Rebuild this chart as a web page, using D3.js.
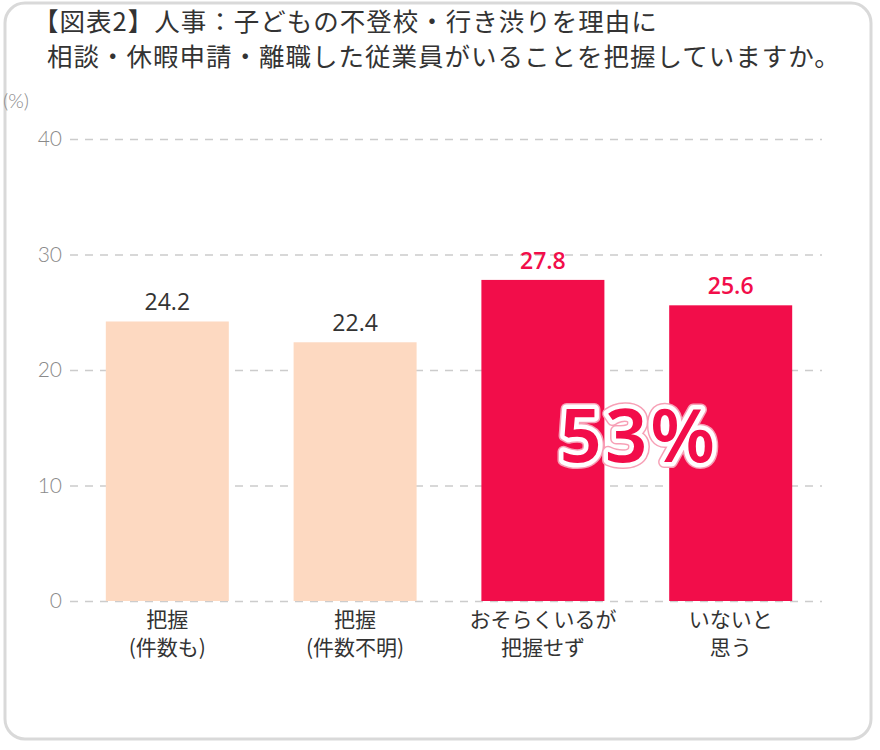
<!DOCTYPE html>
<html>
<head>
<meta charset="utf-8">
<title>図表2</title>
<style>
  body { margin: 0; background: #fff; }
  svg { display: block; }
</style>
</head>
<body>
<script src="https://cdn.jsdelivr.net/npm/d3@7"></script>
<script>
var categories = [["把握", "(件数も)"], ["把握", "(件数不明)"], ["おそらくいるが", "把握せず"], ["いないと", "思う"]];
var values = [24.2, 22.4, 27.8, 25.6];
var barColors = ["#fdd9c1", "#fdd9c1", "#f20d4a", "#f20d4a"];
var labelColors = ["#333333", "#333333", "#f20d4a", "#f20d4a"];
var yTicks = [0, 10, 20, 30, 40];
var titleLines = ["【図表2】人事：子どもの不登校・行き渋りを理由に", "相談・休暇申請・離職した従業員がいることを把握していますか。"];
var bigNote = "53%";

var width = 880, height = 750;
var jp = "'Noto Sans CJK JP', 'Noto Sans', sans-serif";

var svg = d3.select("body").append("svg")
    .attr("width", width)
    .attr("height", height);

// card frame
svg.append("rect")
    .attr("x", 5).attr("y", 3)
    .attr("width", 866).attr("height", 736)
    .attr("rx", 20)
    .attr("fill", "#fff")
    .attr("stroke", "#d9d9d9")
    .attr("stroke-width", 3);

// title
svg.selectAll(".title").data(titleLines)
  .enter().append("text")
    .attr("class", "title")
    .attr("x", function(d, i) { return i === 0 ? 33 : 47; })
    .attr("y", function(d, i) { return 31 + i * 35; })
    .attr("font-family", jp)
    .attr("font-size", 25.5)
    .attr("letter-spacing", 1)
    .attr("fill", "#333")
    .text(function(d) { return d; });

var x = d3.scaleBand()
    .domain(d3.range(categories.length))
    .range([72, 826])
    .paddingInner(0.345)
    .paddingOuter(0.18);

var y = d3.scaleLinear()
    .domain([0, 40])
    .range([601, 139]);

// grid + tick labels
var yAxis = d3.axisLeft(y)
    .tickValues(yTicks)
    .tickSize(-(822 - 70))
    .tickPadding(8);

var gy = svg.append("g")
    .attr("transform", "translate(70,0)")
    .call(yAxis);
gy.select(".domain").remove();
gy.selectAll(".tick line")
    .attr("stroke", "#cccccc")
    .attr("stroke-width", 1.5)
    .attr("stroke-dasharray", "8,7");
gy.selectAll(".tick text")
    .attr("font-family", "Lato, 'Noto Sans', sans-serif")
    .attr("font-weight", 300)
    .attr("font-size", 21)
    .attr("fill", "#8a8a8a");

svg.append("text")
    .attr("x", 3).attr("y", 108)
    .attr("font-family", "Lato, sans-serif")
    .attr("font-weight", 300)
    .attr("font-size", 20)
    .attr("fill", "#8a8a8a")
    .text("(%)");

// bars
svg.selectAll(".bar").data(values)
  .enter().append("rect")
    .attr("class", "bar")
    .attr("x", function(d, i) { return x(i); })
    .attr("y", function(d) { return y(d); })
    .attr("width", x.bandwidth())
    .attr("height", function(d) { return y(0) - y(d); })
    .attr("fill", function(d, i) { return barColors[i]; });

// value labels
svg.selectAll(".val").data(values)
  .enter().append("text")
    .attr("class", "val")
    .attr("x", function(d, i) { return x(i) + x.bandwidth() / 2; })
    .attr("y", function(d) { return y(d) - 11; })
    .attr("text-anchor", "middle")
    .attr("font-family", "'Open Sans', 'Noto Sans', sans-serif")
    .attr("font-weight", function(d, i) { return i >= 2 ? 600 : 400; })
    .attr("font-size", 23)
    .attr("fill", function(d, i) { return labelColors[i]; })
    .text(function(d) { return d.toFixed(1); });

// category labels, one text per line
var catLines = [];
categories.forEach(function(c, i) {
  c.forEach(function(s, j) { catLines.push({s: s, i: i, j: j}); });
});
svg.selectAll(".cat").data(catLines)
  .enter().append("text")
    .attr("class", "cat")
    .attr("x", function(d) { return x(d.i) + x.bandwidth() / 2; })
    .attr("y", function(d) { return 627 + d.j * 28; })
    .attr("text-anchor", "middle")
    .attr("font-family", jp)
    .attr("font-size", 21)
    .attr("fill", "#333")
    .text(function(d) { return d.s; });

// 53% callout across the red bars
var cx = (x(2) + x(3) + x.bandwidth()) / 2;
var note = svg.append("g").attr("font-family", "'Noto Sans', Lato, sans-serif")
    .attr("font-weight", 600).attr("font-size", 74).attr("text-anchor", "middle")
    .attr("letter-spacing", 3);
note.append("text")
    .attr("x", cx + 2).attr("y", 462)
    .attr("fill", "#f20d4a")
    .attr("stroke", "#f7a0b6")
    .attr("stroke-width", 12)
    .attr("stroke-linejoin", "round")
    .text(bigNote);
note.append("text")
    .attr("x", cx + 2).attr("y", 462)
    .attr("fill", "#f20d4a")
    .attr("stroke", "#fff")
    .attr("stroke-width", 9)
    .attr("stroke-linejoin", "round")
    .text(bigNote);
note.append("text")
    .attr("x", cx + 2).attr("y", 462)
    .attr("fill", "#f20d4a")
    .text(bigNote);
</script>
</body>
</html>
